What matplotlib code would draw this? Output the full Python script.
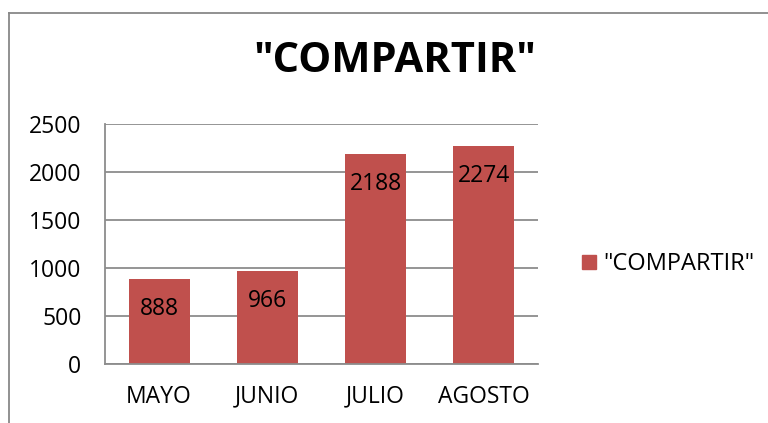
import matplotlib
matplotlib.use("Agg")
import matplotlib.pyplot as plt
from matplotlib.lines import Line2D

months = ["MAYO", "JUNIO", "JULIO", "AGOSTO"]
values = [888, 966, 2188, 2274]
series_name = '"COMPARTIR"'
yticks = [0, 500, 1000, 1500, 2000, 2500]

BAR = "#C0504D"
GRID = "#8C8C8C"

plt.rcParams["font.family"] = ["Open Sans", "DejaVu Sans"]

fig = plt.figure(figsize=(7.68, 4.23), dpi=100)
ax = fig.add_axes([105 / 768, 59 / 423, 433 / 768, 240 / 423])

x = range(len(months))
ax.bar(x, values, width=0.565, color=BAR, zorder=2, label=series_name)
for xi, v in zip(x, values):
    ax.annotate(str(v), (xi, v), xytext=(0, -21.5), textcoords="offset points",
                ha="center", va="center", fontsize=16.5, color="black", zorder=3)

ax.set_xlim(-0.5, len(months) - 0.5)
ax.set_ylim(0, 2500)
ax.set_yticks(yticks)
ax.set_xticks(list(x))
ax.set_xticklabels(months)
ax.tick_params(axis="both", length=0, labelsize=16.5)
ax.tick_params(axis="y", pad=17)
ax.tick_params(axis="x", pad=15)
ax.yaxis.grid(True, color=GRID, lw=1.3, zorder=1)
ax.set_axisbelow(True)
for s in ["top", "right"]:
    ax.spines[s].set_visible(False)
for s in ["left", "bottom"]:
    ax.spines[s].set_color(GRID)
    ax.spines[s].set_linewidth(1.3)

fig.text(395 / 768, 1 - 62 / 423, series_name, ha="center", va="center",
         fontsize=30, fontweight="bold")

handle = Line2D([], [], marker="s", color=BAR, ls="", markersize=10)
fig.legend([handle], [series_name], loc="center left",
           bbox_to_anchor=(568 / 768, 1 - 264 / 423), frameon=False,
           fontsize=17, handlelength=0.8, handletextpad=0.2, borderpad=0)

# chart border (cropped at right and bottom)
fig.add_artist(Line2D([9 / 768, 9 / 768], [0, 1 - 13 / 423], color="#888888", lw=1.3))
fig.add_artist(Line2D([9 / 768, 1], [1 - 13 / 423, 1 - 13 / 423], color="#888888", lw=1.3))

fig.savefig("out.png", dpi=100)
